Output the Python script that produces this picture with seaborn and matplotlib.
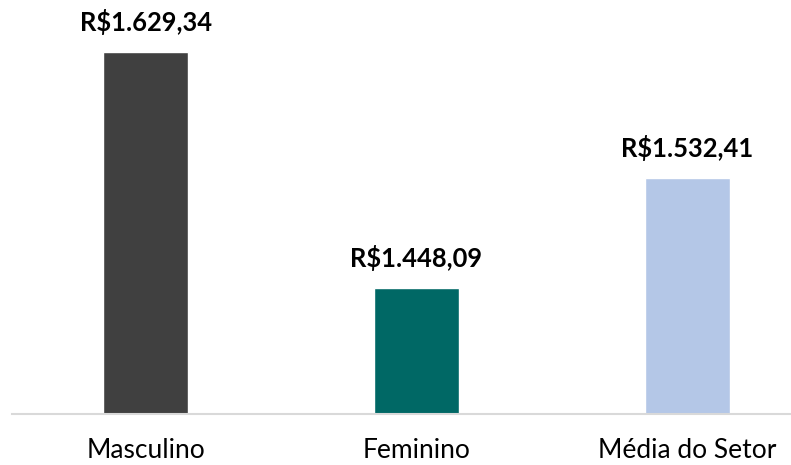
import matplotlib
matplotlib.use("Agg")
import matplotlib.pyplot as plt
import seaborn as sns
import pandas as pd

# values
categorias = ["Masculino", "Feminino", "Média do Setor"]
salarios = [1629.34, 1448.09, 1532.41]
cores = ["#404040", "#006865", "#B4C7E7"]

def brl(v):
    # R$ with Brazilian separators
    s = f"{v:,.2f}".replace(",", "X").replace(".", ",").replace("X", ".")
    return "R$" + s

df = pd.DataFrame({"categoria": categorias, "salario": salarios})

sns.set_theme(style="white")
plt.rcParams["font.family"] = ["Lato", "DejaVu Sans"]

fig = plt.figure(figsize=(7.91, 4.65), dpi=100)
ax = fig.add_axes([12 / 791, 51 / 465, 779 / 791, 414 / 465])

sns.barplot(data=df, x="categoria", y="salario", hue="categoria",
            palette=cores, width=0.314, legend=False, ax=ax, saturation=1)

ax.set_ylim(1351, 1669)
ax.set_xlim(-0.494, 2.384)
ax.set_xlabel("")
ax.set_ylabel("")
ax.set_yticks([])

for s in ["top", "right", "left"]:
    ax.spines[s].set_visible(False)
ax.spines["bottom"].set_color("#D9D9D9")
ax.spines["bottom"].set_linewidth(1.5)

ax.tick_params(axis="x", length=0, pad=17, labelsize=19, labelcolor="black")

for cont in ax.containers:
    ax.bar_label(cont, labels=[brl(v) for v in cont.datavalues], padding=12,
                 fontsize=18.4, fontweight="bold", color="black")

fig.savefig("out.png", dpi=100)
